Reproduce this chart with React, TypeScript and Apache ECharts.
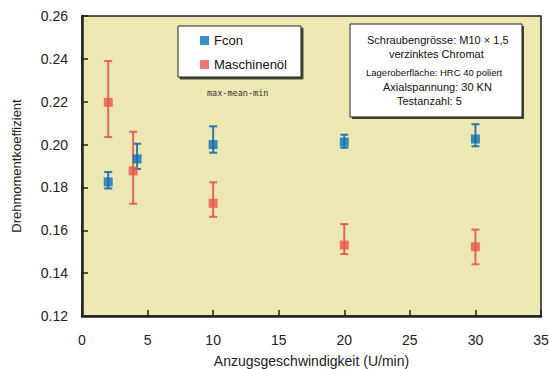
import React, { useEffect, useRef } from "react";
import * as echarts from "echarts";

const xTicks = [0, 5, 10, 15, 20, 25, 30, 35];
const yTicks = [0.12, 0.14, 0.16, 0.18, 0.2, 0.22, 0.24, 0.26];

const seriesNames = ["Fcon", "Maschinenöl"];

const xFcon = [2, 4.2, 10, 20, 30];
const meanFcon = [0.1826, 0.1933, 0.2, 0.2012, 0.2026];
const maxFcon = [0.1872, 0.2004, 0.2085, 0.2046, 0.2095];
const minFcon = [0.1795, 0.1886, 0.1962, 0.1985, 0.1992];

const xOil = [2, 3.9, 10, 20, 30];
const meanOil = [0.2197, 0.1877, 0.1726, 0.1531, 0.1523];
const maxOil = [0.239, 0.206, 0.1824, 0.1629, 0.1603];
const minOil = [0.2035, 0.1724, 0.1663, 0.1489, 0.1441];

const infoLines = [
  "Schraubengrösse: M10 × 1,5",
  "verzinktes Chromat",
  "Lageroberfläche: HRC 40 poliert",
  "Axialspannung: 30 KN",
  "Testanzahl: 5",
];

const BLUE = "#0A72BA";
const RED = "#E8554E";
const FONT = "'Liberation Sans', Arial, sans-serif";

function errorBarSeries(name: string, xs: number[], mins: number[], maxs: number[], color: string) {
  return {
    type: "custom",
    name,
    z: 3,
    data: xs.map((x, i) => [x, mins[i], maxs[i]]),
    renderItem: (params: any, api: any) => {
      const x = api.value(0);
      const lo = api.coord([x, api.value(1)]);
      const hi = api.coord([x, api.value(2)]);
      const cap = 4;
      const style = { stroke: color, lineWidth: 2, opacity: 0.9 };
      return {
        type: "group",
        children: [
          { type: "line", shape: { x1: lo[0], y1: lo[1], x2: hi[0], y2: hi[1] }, style },
          { type: "line", shape: { x1: lo[0] - cap, y1: lo[1], x2: lo[0] + cap, y2: lo[1] }, style },
          { type: "line", shape: { x1: hi[0] - cap, y1: hi[1], x2: hi[0] + cap, y2: hi[1] }, style },
        ],
      };
    },
  };
}

export default function App() {
  const ref = useRef<HTMLDivElement>(null);
  useEffect(() => {
    if (!ref.current) return;
    const chart = echarts.init(ref.current, undefined, { renderer: "svg" });
    const infoX = [367, 389, 366, 383, 397];
    const infoY = [40, 54, 72, 87, 101];
    const infoSize = [11, 11, 9.5, 11, 11];
    chart.setOption({
      animation: false,
      backgroundColor: "#ffffff",
      grid: {
        left: 82,
        top: 16,
        right: 8,
        bottom: 53,
        outerBoundsMode: "none",
        containLabel: false,
        show: true,
        backgroundColor: "#EDE8B1",
        borderColor: "#222",
        borderWidth: 1.5,
      },
      legend: {
        data: seriesNames,
        orient: "vertical",
        left: 178,
        top: 26,
        padding: [8, 14, 6, 22],
        itemGap: 11,
        itemWidth: 9,
        itemHeight: 9,
        backgroundColor: "#ffffff",
        borderColor: "#222",
        borderWidth: 1,
        shadowColor: "rgba(0,0,0,0.7)",
        shadowOffsetX: 2,
        shadowOffsetY: 2,
        shadowBlur: 0,
        textStyle: { fontFamily: FONT, fontSize: 13, color: "#111" },
      },
      xAxis: {
        type: "value",
        min: xTicks[0],
        max: xTicks[xTicks.length - 1],
        interval: 5,
        name: "Anzugsgeschwindigkeit (U/min)",
        nameLocation: "middle",
        nameGap: 38,
        nameTextStyle: { fontFamily: FONT, fontSize: 14, color: "#222" },
        axisLine: { show: true, lineStyle: { color: "#222", width: 2.5 } },
        axisTick: { show: true, inside: true, length: 6, lineStyle: { color: "#222", width: 1.5 } },
        axisLabel: { margin: 17, fontFamily: FONT, fontSize: 14, color: "#222" },
        splitLine: { show: false },
      },
      yAxis: {
        type: "value",
        min: yTicks[0],
        max: yTicks[yTicks.length - 1],
        interval: 0.02,
        name: "Drehmomentkoeffizient",
        nameLocation: "middle",
        nameGap: 59,
        nameTextStyle: { fontFamily: FONT, fontSize: 13, color: "#222" },
        axisLine: { show: true, lineStyle: { color: "#222", width: 2.5 } },
        axisTick: { show: true, inside: true, length: 6, lineStyle: { color: "#222", width: 1.5 } },
        axisLabel: {
          margin: 14,
          fontFamily: FONT,
          fontSize: 14,
          color: "#222",
          formatter: (v: number) => v.toFixed(2),
        },
        splitLine: { show: false },
      },
      series: [
        errorBarSeries("Fcon range", xFcon, minFcon, maxFcon, BLUE),
        errorBarSeries("Maschinenöl range", xOil, minOil, maxOil, RED),
        {
          type: "scatter",
          name: seriesNames[0],
          symbol: "rect",
          symbolSize: 9,
          z: 4,
          itemStyle: { color: BLUE },
          data: xFcon.map((x, i) => [x, meanFcon[i]]),
        },
        {
          type: "scatter",
          name: seriesNames[1],
          symbol: "rect",
          symbolSize: 9,
          z: 4,
          itemStyle: { color: RED },
          data: xOil.map((x, i) => [x, meanOil[i]]),
        },
      ],
      graphic: [
        {
          type: "text",
          left: 207,
          top: 88,
          style: { text: "max-mean-min", fontFamily: "'DejaVu Sans Mono', monospace", fontSize: 8.5, fill: "#333" },
        },
        {
          type: "rect",
          shape: { x: 352, y: 26, width: 172, height: 93 },
          style: { fill: "rgba(0,0,0,0.7)" },
          z: 10,
        },
        {
          type: "rect",
          shape: { x: 350, y: 24, width: 172, height: 93 },
          style: { fill: "#ffffff", stroke: "#222", lineWidth: 1 },
          z: 11,
        },
        ...infoLines.map((t, i) => ({
          type: "text",
          x: infoX[i],
          y: infoY[i],
          z: 12,
          style: {
            text: t,
            fontFamily: FONT,
            fontSize: infoSize[i],
            fill: "#111",
            textVerticalAlign: "middle",
            verticalAlign: "middle",
          },
        })),
      ],
    });
    return () => chart.dispose();
  }, []);
  return <div ref={ref} style={{ position: "fixed", left: 0, top: 0, width: 549, height: 369 }} />;
}
